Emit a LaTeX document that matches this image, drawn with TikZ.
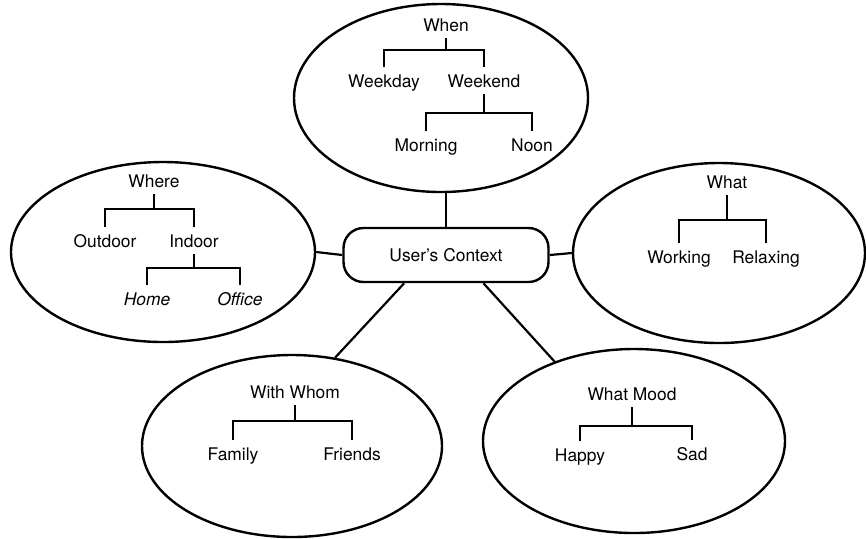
\documentclass[tikz,border=0pt]{standalone}
\usepackage{fontspec}
\setmainfont{TeX Gyre Heros}
\usetikzlibrary{shapes.geometric}
\begin{document}
\begin{tikzpicture}[x=0.5pt,y=-0.5pt,
  lbl/.style={inner xsep=0pt, inner ysep=3.5pt, anchor=base, text height=6.2pt, text depth=0pt, font=\fontsize{8.7}{10}\selectfont},
  bubble/.style={ellipse, draw, line width=1.2pt, inner sep=0pt},
  ctxbox/.style={draw, rounded corners=10pt, line width=1.2pt, minimum width=102.5pt, minimum height=27pt, inner sep=0pt, font=\fontsize{8.7}{10}\selectfont},
  tree/.style={line width=1pt},
  link/.style={line width=1.1pt}]
\useasboundingbox (0,0) rectangle (866,538);

% bubbles
\node[bubble, minimum width=147pt, minimum height=94pt] (whenE) at (441,98) {};
\node[bubble, minimum width=152pt, minimum height=90pt] (whereE) at (163,252) {};
\node[bubble, minimum width=146pt, minimum height=90pt] (whatE) at (719,253) {};
\node[bubble, minimum width=150pt, minimum height=91pt] (withE) at (292,446) {};
\node[bubble, minimum width=151pt, minimum height=92pt] (moodE) at (634,441) {};

% centre
\node[ctxbox] (ctx) at (446,255) {User's Context};

% links
\draw[link] (ctx.north) -- (ctx.north |- whenE.south);
\draw[link] (ctx.west) -- (whereE.east);
\draw[link] (ctx.east) -- (whatE.west);
\draw[link] (ctx.214.7) -- (withE.64);
\draw[link] (ctx.323.9) -- (moodE.135.3);

% When tree
\node[lbl] (when) at (446,31) {When};
\node[lbl] (wd) at (384,87) {Weekday};
\node[lbl] (we) at (484,87) {Weekend};
\node[lbl] (mo) at (426,151) {Morning};
\node[lbl] (no) at (532,151) {Noon};
\draw[tree] (when.south) -- (when.south |- 0,50);
\draw[tree] (wd.north) |- (when.south |- 0,50) -| (we.north);
\draw[tree] (we.south) -- (we.south |- 0,113);
\draw[tree] (mo.north) |- (we.south |- 0,113) -| (no.north);

% Where tree
\node[lbl] (where) at (154,187) {Where};
\node[lbl] (out) at (105,247) {Outdoor};
\node[lbl] (in) at (194,247) {Indoor};
\node[lbl] (home) at (147,305) {\itshape Home};
\node[lbl] (office) at (240,305) {\itshape Office};
\draw[tree] (where.south) -- (where.south |- 0,209);
\draw[tree] (out.north) |- (where.south |- 0,209) -| (in.north);
\draw[tree] (in.south) -- (in.south |- 0,268);
\draw[tree] (home.north) |- (in.south |- 0,268) -| (office.north);

% What tree
\node[lbl] (what) at (727,188) {What};
\node[lbl] (work) at (679,263) {Working};
\node[lbl] (relax) at (766,263) {Relaxing};
\draw[tree] (what.south) -- (what.south |- 0,220);
\draw[tree] (work.north) |- (what.south |- 0,220) -| (relax.north);

% With Whom tree
\node[lbl] (whom) at (295,398) {With Whom};
\node[lbl] (fam) at (233,460) {Family};
\node[lbl] (fri) at (352,460) {Friends};
\draw[tree] (whom.south) -- (whom.south |- 0,421);
\draw[tree] (fam.north) |- (whom.south |- 0,421) -| (fri.north);

% What Mood tree
\node[lbl] (mood) at (632,400) {What Mood};
\node[lbl] (happy) at (580,461) {Happy};
\node[lbl] (sad) at (692,460) {Sad};
\draw[tree] (mood.south) -- (mood.south |- 0,426);
\draw[tree] (happy.north) |- (mood.south |- 0,426) -| (sad.north);
\end{tikzpicture}
\end{document}
